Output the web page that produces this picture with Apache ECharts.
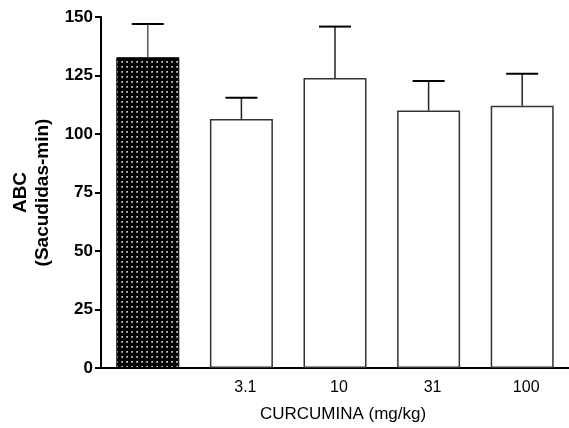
<!DOCTYPE html>
<html>
<head>
<meta charset="utf-8">
<script src="https://cdn.jsdelivr.net/npm/echarts@6/dist/echarts.min.js"></script>
<style>
html,body{margin:0;padding:0;background:#fff;}
#c{width:569px;height:428px;}
</style>
</head>
<body>
<div id="c"></div>
<script>
const categories = ['', '3.1', '10', '31', '100'];
const means = [132.8, 106.4, 123.9, 110.0, 112.1];
const sems = [14.2, 9.1, 22.0, 12.6, 13.6];
const yTicks = { min: 0, max: 150, interval: 25 };

const pc = document.createElement('canvas');
pc.width = 5; pc.height = 5;
const px = pc.getContext('2d');
px.fillStyle = '#000'; px.fillRect(0, 0, 5, 5);
px.fillStyle = '#8a8a8a'; px.fillRect(1, 1, 2, 2);
px.fillStyle = '#d0d0d0'; px.fillRect(2, 1, 1, 1);

const chart = echarts.init(document.getElementById('c'));
const barData = means.map((v, i) => ({
  value: v,
  itemStyle: i === 0
    ? { color: { image: pc, repeat: 'repeat' }, borderColor: '#000', borderWidth: 1 }
    : { color: '#fff', borderColor: '#333', borderWidth: 1.5 }
}));
const errData = means.map((v, i) => [i, v, v + sems[i]]);

chart.setOption({
  animation: false,
  grid: { left: 101, top: 17, width: 475, height: 358 },
  xAxis: {
    type: 'category',
    data: categories,
    axisLine: { lineStyle: { color: '#000', width: 2 } },
    axisTick: { show: false },
    axisLabel: { color: '#000', fontFamily: 'Liberation Sans, Arial', fontSize: 16, margin: 12, padding: [0, 0, 0, 8] },
    name: 'CURCUMINA (mg/kg)',
    nameLocation: 'middle',
    nameGap: 38,
    nameTextStyle: { color: '#000', fontFamily: 'Liberation Sans, Arial', fontSize: 17, padding: [0, 0, 0, 16] }
  },
  yAxis: {
    type: 'value',
    min: yTicks.min, max: yTicks.max, interval: yTicks.interval,
    splitLine: { show: false },
    axisLine: { show: true, lineStyle: { color: '#000', width: 2 } },
    axisTick: { show: true, length: 6, lineStyle: { color: '#000', width: 2 } },
    axisLabel: { color: '#000', fontFamily: 'Liberation Sans, Arial', fontWeight: 'bold', fontSize: 17, margin: 8 },
    name: 'ABC\n(Sacudidas-min)',
    nameLocation: 'middle',
    nameRotate: 90,
    nameGap: 46,
    nameTextStyle: { color: '#000', fontFamily: 'Liberation Sans, Arial', fontWeight: 'bold', fontSize: 19, lineHeight: 22 }
  },
  series: [
    {
      type: 'bar',
      data: barData,
      barWidth: 63,
      z: 2
    },
    {
      type: 'custom',
      data: errData,
      z: 3,
      renderItem: function (params, api) {
        const x = api.value(0);
        const base = api.coord([x, api.value(1)]);
        const top = api.coord([x, api.value(2)]);
        const hw = 16;
        return {
          type: 'group',
          children: [
            { type: 'line', shape: { x1: base[0], y1: base[1], x2: top[0], y2: top[1] },
              style: { stroke: params.dataIndex === 0 ? '#555' : '#222', lineWidth: 1.5 } },
            { type: 'line', shape: { x1: top[0] - hw, y1: top[1], x2: top[0] + hw, y2: top[1] },
              style: { stroke: '#000', lineWidth: 2 } }
          ]
        };
      }
    }
  ]
});
</script>
</body>
</html>
